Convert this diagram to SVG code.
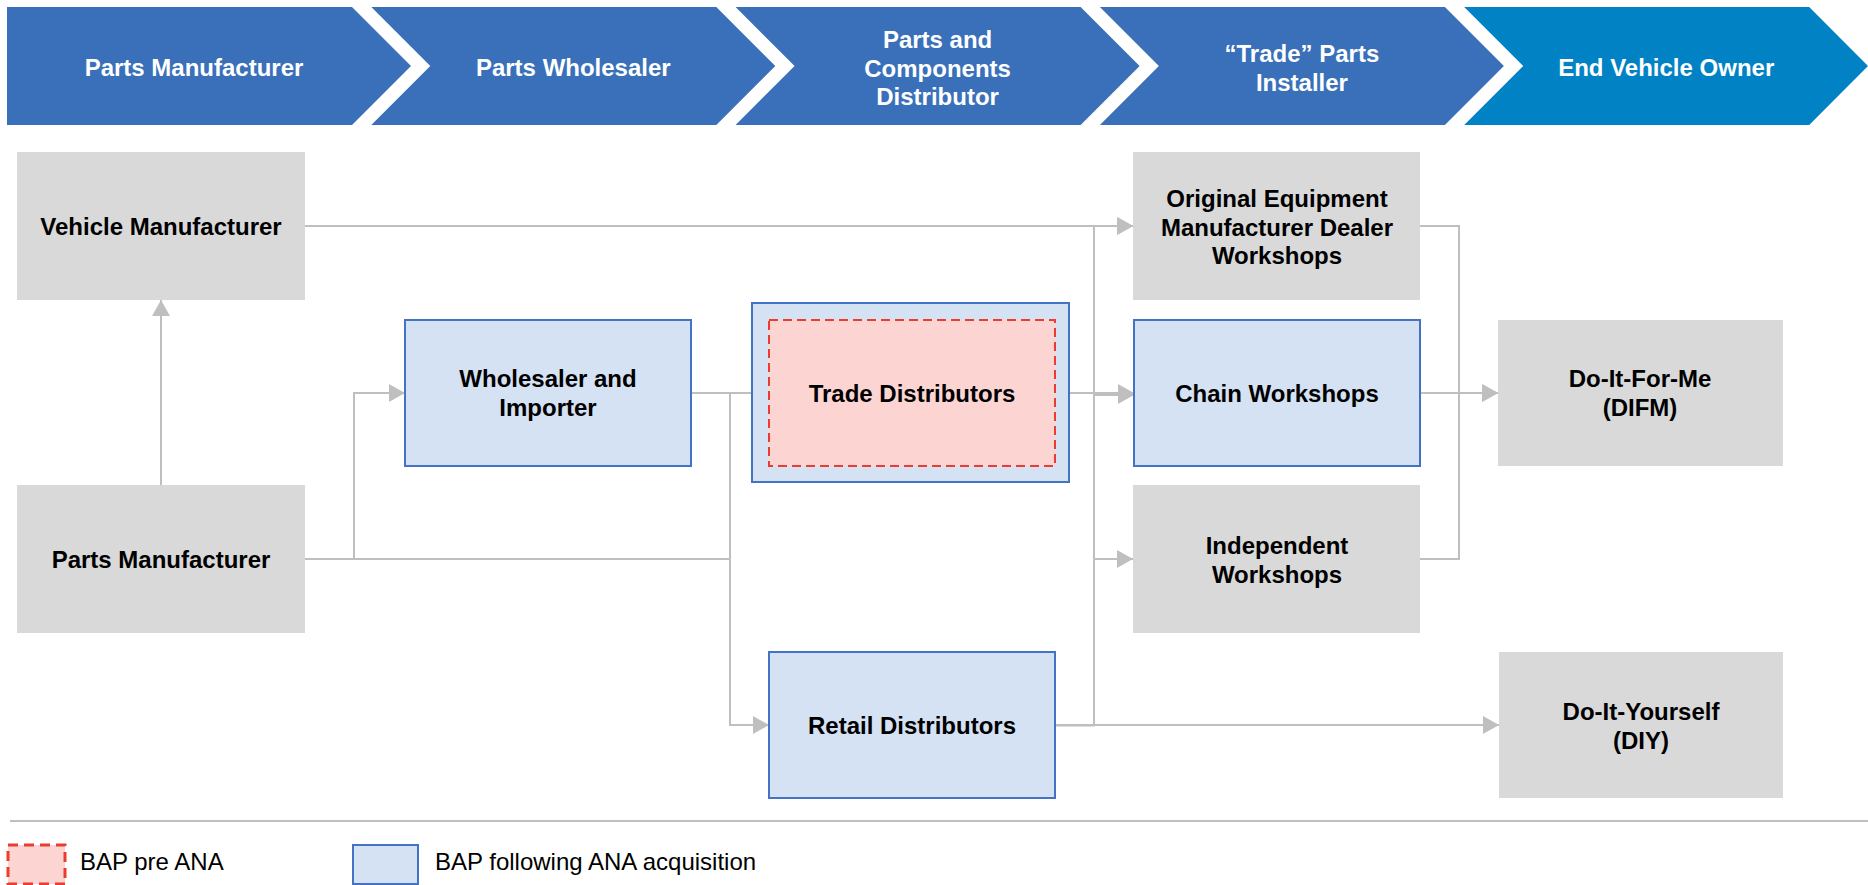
<svg xmlns="http://www.w3.org/2000/svg" width="1868" height="885" viewBox="0 0 1868 885">
<style>
text{font-family:"Liberation Sans",Arial,sans-serif;font-size:24px;text-anchor:middle}
.hdr{fill:#FFFFFF;font-weight:bold}
.lbl{fill:#000000;font-weight:bold}
.leg{fill:#000000;text-anchor:start}
.chev{fill:#3970B9}
.chev5{fill:#0182C5}
.gray{fill:#D9D9D9}
.blue{fill:#D5E2F3;stroke:#4472C4;stroke-width:2}
.red{fill:#FCD5D2;stroke:#EC3B2F;stroke-width:2;stroke-dasharray:9 5}
.conn{fill:none;stroke:#BFBFBF;stroke-width:2}
</style>
<defs>
<marker id="arr" markerUnits="userSpaceOnUse" markerWidth="16" markerHeight="18" refX="16" refY="9" orient="auto">
<path d="M0,0 L16,9 L0,18 Z" fill="#BFBFBF"/>
</marker>
</defs>
<g id="header">
<g id="h1"><path class="chev" d="M7,7 H352 L411,66 L352,125 H7 Z"/><text class="hdr" x="194" y="76">Parts Manufacturer</text></g>
<g id="h2"><path class="chev" d="M371.3,7 H716.3 L775.3,66 L716.3,125 H371.3 L430.3,66 Z"/><text class="hdr" x="573.3" y="76">Parts Wholesaler</text></g>
<g id="h3"><path class="chev" d="M735.6,7 H1080.6 L1139.6,66 L1080.6,125 H735.6 L794.6,66 Z"/><text class="hdr" x="937.6" y="48">Parts and</text><text class="hdr" x="937.6" y="76.5">Components</text><text class="hdr" x="937.6" y="105">Distributor</text></g>
<g id="h4"><path class="chev" d="M1099.9,7 H1444.9 L1503.9,66 L1444.9,125 H1099.9 L1158.9,66 Z"/><text class="hdr" x="1301.9" y="62">“Trade” Parts</text><text class="hdr" x="1301.9" y="90.5">Installer</text></g>
<g id="h5"><path class="chev5" d="M1464.2,7 H1809.2 L1868,66 L1809.2,125 H1464.2 L1523.2,66 Z"/><text class="hdr" x="1666.2" y="76">End Vehicle Owner</text></g>
</g>
<g id="connectors">
<path class="conn" d="M305,226 H1133" marker-end="url(#arr)"/>
<path class="conn" d="M161,485 V300" marker-end="url(#arr)"/>
<path class="conn" d="M305,559 H354 V393 H405" marker-end="url(#arr)"/>
<path class="conn" d="M305,559 H730 V725 H769" marker-end="url(#arr)"/>
<path class="conn" d="M691,393 H769" marker-end="url(#arr)"/>
<path class="conn" d="M730,393 V559"/>
<path class="conn" d="M1055,393 H1134" marker-end="url(#arr)"/>
<path class="conn" d="M1055,725 H1499" marker-end="url(#arr)"/>
<path class="conn" d="M1055,725.5 H1094 V226 H1133" marker-end="url(#arr)"/>
<path class="conn" d="M1094,395 H1134" marker-end="url(#arr)"/>
<path class="conn" d="M1094,559 H1133" marker-end="url(#arr)"/>
<path class="conn" d="M1420,226 H1459 V393 H1498" marker-end="url(#arr)"/>
<path class="conn" d="M1420,393 H1498" marker-end="url(#arr)"/>
<path class="conn" d="M1420,559 H1459 V393"/>
</g>
<g id="vehicle-manufacturer"><rect class="gray" x="17" y="152" width="288" height="148"/><text class="lbl" x="161" y="235">Vehicle Manufacturer</text></g>
<g id="parts-manufacturer"><rect class="gray" x="17" y="485" width="288" height="148"/><text class="lbl" x="161" y="568">Parts Manufacturer</text></g>
<g id="wholesaler-importer"><rect class="blue" x="405" y="320" width="286" height="146"/><text class="lbl" x="548" y="387">Wholesaler and</text><text class="lbl" x="548" y="416">Importer</text></g>
<g id="trade-distributors"><rect class="blue" x="752" y="303" width="317" height="179"/><rect class="red" x="769" y="320" width="286" height="146"/><text class="lbl" x="912" y="402">Trade Distributors</text></g>
<g id="retail-distributors"><rect class="blue" x="769" y="652" width="286" height="146"/><text class="lbl" x="912" y="734">Retail Distributors</text></g>
<g id="oem-dealer-workshops"><rect class="gray" x="1133" y="152" width="287" height="148"/><text class="lbl" x="1277" y="207">Original Equipment</text><text class="lbl" x="1277" y="236">Manufacturer Dealer</text><text class="lbl" x="1277" y="264">Workshops</text></g>
<g id="chain-workshops"><rect class="blue" x="1134" y="320" width="286" height="146"/><text class="lbl" x="1277" y="402">Chain Workshops</text></g>
<g id="independent-workshops"><rect class="gray" x="1133" y="485" width="287" height="148"/><text class="lbl" x="1277" y="554">Independent</text><text class="lbl" x="1277" y="583">Workshops</text></g>
<g id="difm"><rect class="gray" x="1498" y="320" width="285" height="146"/><text class="lbl" x="1640" y="387">Do-It-For-Me</text><text class="lbl" x="1640" y="416">(DIFM)</text></g>
<g id="diy"><rect class="gray" x="1499" y="652" width="284" height="146"/><text class="lbl" x="1641" y="720">Do-It-Yourself</text><text class="lbl" x="1641" y="749">(DIY)</text></g>
<g id="legend">
<line x1="10" y1="821" x2="1868" y2="821" stroke="#BFBFBF" stroke-width="2"/>
<rect x="8" y="845" width="57" height="39" fill="#FCD5D2" stroke="#EC3B2F" stroke-width="3" stroke-dasharray="10 6"/>
<text class="leg" x="80" y="870">BAP pre ANA</text>
<rect x="353" y="845" width="65" height="39" fill="#D5E2F3" stroke="#4472C4" stroke-width="2"/>
<text class="leg" x="435" y="870">BAP following ANA acquisition</text>
</g>
</svg>
